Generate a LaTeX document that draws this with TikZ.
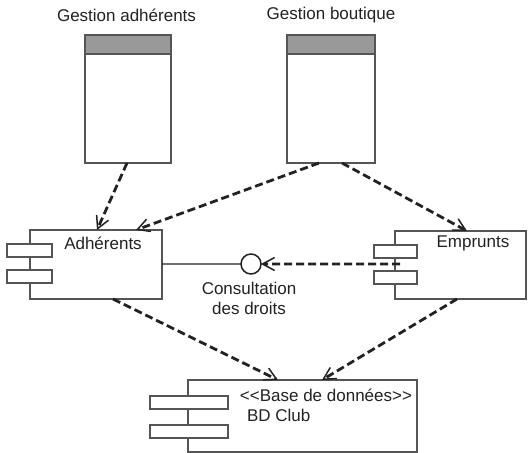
\documentclass[tikz,border=0pt]{standalone}
\usepackage{fontspec}
\setmainfont{Liberation Sans}
\usetikzlibrary{arrows.meta}
\definecolor{edge}{HTML}{555555}
\definecolor{headgray}{HTML}{999999}
\definecolor{ink}{HTML}{222222}
\begin{document}
\begin{tikzpicture}[x=1bp,y=-1bp,
  every node/.style={font=\fontsize{17bp}{20bp}\selectfont, text=ink, inner sep=0pt, outer sep=0pt},
  artifact/.style={draw=edge, line width=1.2bp, fill=white, anchor=north west, minimum width=86bp, minimum height=128bp},
  component/.style={draw=edge, line width=1.2bp, fill=white, anchor=north west},
  port/.style={draw=edge, line width=1.2bp, fill=white},
  header/.style={draw=edge, line width=1.2bp, fill=headgray},
  depend/.style={draw=ink, line width=2.8bp, dash pattern=on 8bp off 4bp,
    -{Straight Barb[length=12bp,width=13bp,line width=1.5bp]}},
  iface/.style={draw=ink, line width=1.5bp, fill=white, circle, minimum size=20bp},
  title/.style={anchor=center}]
\useasboundingbox (0,0) rectangle (528,453);
\fill[white] (0,0) rectangle (528,453);

% Two user-interface artifacts with their titles
\node[title] (tga) at (126.5,15) {Gestion adhérents};
\node[title] (tgb) at (331,15) {Gestion boutique};
\node[artifact] (ga) at (85,35) {};
\node[artifact, minimum width=88bp] (gb) at (287,35) {};
\draw[header] (ga.north west) rectangle ([yshift=-19bp]ga.north east);
\draw[header] (gb.north west) rectangle ([yshift=-19bp]gb.north east);

% Components
\node[component, minimum width=132bp, minimum height=69bp] (adh) at (30,230) {};
\node[component, minimum width=131bp, minimum height=68bp] (emp) at (395,231) {};
\node[component, minimum width=229bp, minimum height=72bp] (bd) at (188,380) {};

% Component ports
\draw[port] ([xshift=-23bp,yshift=-14bp]adh.north west) rectangle ++(45,13);
\draw[port] ([xshift=-23bp,yshift=-40bp]adh.north west) rectangle ++(45,13);
\draw[port] ([xshift=-21bp,yshift=-14bp]emp.north west) rectangle ++(43,13);
\draw[port] ([xshift=-21bp,yshift=-40bp]emp.north west) rectangle ++(43,13);
\draw[port] ([xshift=-38bp,yshift=-16bp]bd.north west) rectangle ++(78,13);
\draw[port] ([xshift=-38bp,yshift=-45bp]bd.north west) rectangle ++(78,13);

% Component labels
\node (ladh) at (103,243) {Adhérents};
\node (lemp) at (473,243) {Emprunts};
\node (lbd1) at (326,395) {<{}<Base de données>{}>};
\node[anchor=west] (lbd2) at (247,415) {BD Club};

% Provided interface
\node[iface] (cons) at (251,264) {};
\node (lcons1) at (249,288) {Consultation};
\node (lcons2) at (249,308) {des droits};
\draw[draw=ink, line width=1.3bp] ([yshift=-34bp]adh.north east) -- (cons.west);

% Dependencies
\draw[depend] ([xshift=42bp]ga.south west) -- ([xshift=67bp]adh.north west);
\draw[depend] ([xshift=32bp]gb.south west) -- ([xshift=106bp]adh.north west);
\draw[depend] ([xshift=55bp]gb.south west) -- ([xshift=72bp]emp.north west);
\draw[depend] ([xshift=83bp]adh.south west) -- ([xshift=90bp]bd.north west);
\draw[depend] ([xshift=62bp]emp.south west) -- ([xshift=134bp]bd.north west);
\draw[depend] ([xshift=5bp,yshift=1bp]emp.west) -- (cons.east);
\end{tikzpicture}
\end{document}
